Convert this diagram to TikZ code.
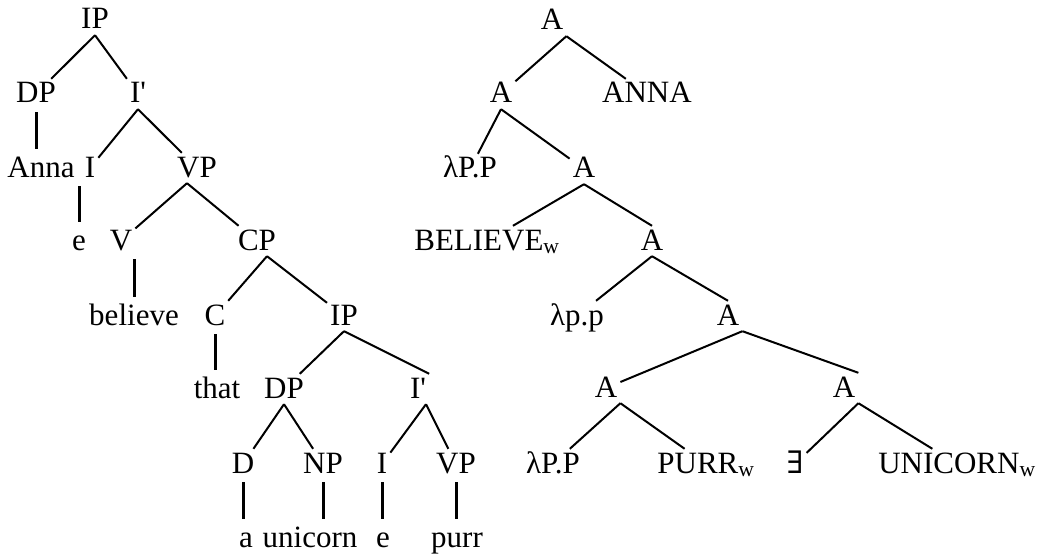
\documentclass[tikz,border=0pt]{standalone}
\usepackage{fontspec}
\setmainfont{Liberation Serif}
\newfontfamily\symfont{DejaVu Serif}

\tikzset{
  every node/.style={font=\fontsize{31}{36}\selectfont, inner sep=3pt,
    text height=21pt, text depth=3pt, anchor=base},
  branch/.style={line width=2pt},
  stem/.style={line width=3pt, shorten <=3pt, shorten >=4pt}
}

\begin{document}
\begin{tikzpicture}[x=1pt,y=-1pt]
\useasboundingbox (0,0) rectangle (1040,556);

% syntax tree
\node (ip1) at (95,29) {IP};
\node (dp1) at (36,103) {DP};
\node (ib1) at (138,103) {I\textquotesingle};
\node (anna) at (41,177) {Anna};
\node (i1) at (90,177) {I};
\node (vp1) at (197,177) {VP};
\node (e1) at (79,250) {e};
\node (v) at (121,250) {V};
\node (cp) at (257,250) {CP};
\node (believe) at (134,325) {believe};
\node (c) at (215,325) {C};
\node (ip2) at (344,325) {IP};
\node (that) at (217,398) {that};
\node (dp2) at (284,398) {DP};
\node (ib2) at (418,398) {I\textquotesingle};
\node (d) at (243,473) {D};
\node (np) at (323,473) {NP};
\node (i2) at (382,473) {I};
\node (vp2) at (456,473) {VP};
\node (a) at (246,547) {a};
\node (unicorn) at (310,547) {unicorn};
\node (e2) at (383,547) {e};
\node (purr) at (457,547) {purr};

\draw[branch] (ip1.south) -- (dp1);
\draw[branch] (ip1.south) -- (ib1);
\draw[branch] (ib1.south) -- (i1);
\draw[branch] (ib1.south) -- (vp1);
\draw[branch] ([xshift=-10pt]vp1.south) -- (v);
\draw[branch] ([xshift=-10pt]vp1.south) -- (cp);
\draw[branch] ([xshift=10pt]cp.south) -- (c);
\draw[branch] ([xshift=10pt]cp.south) -- (ip2);
\draw[branch] (ip2.south) -- (dp2);
\draw[branch] (ip2.south) -- (ib2.north east);
\draw[branch] (dp2.south) -- (d);
\draw[branch] (dp2.south) -- (np);
\draw[branch] ([xshift=8pt]ib2.south) -- (i2);
\draw[branch] ([xshift=8pt]ib2.south) -- (vp2);

\draw[stem] (dp1.south) -- (dp1.south |- anna.north);
\draw[stem] (e1.north |- i1.south) -- (e1.north);
\draw[stem] (believe.north |- v.south) -- (believe.north);
\draw[stem] (c.south) -- (c.south |- that.north);
\draw[stem] (d.south) -- (d.south |- a.north);
\draw[stem] (np.south) -- (np.south |- unicorn.north);
\draw[stem] (i2.south) -- (i2.south |- e2.north);
\draw[stem] (vp2.south) -- (vp2.south |- purr.north);

% semantic tree
\node (r0) at (552,30) {A};
\node (r1) at (501,103) {A};
\node (anna2) at (647,103) {ANNA};
\node (lam1) at (470,178) {λP.P};
\node (r2) at (584,178) {A};
\node (believe2) at (487,250) {BELIEVE\textsubscript{w}};
\node (r3) at (652,250) {A};
\node (lam2) at (577,325) {λp.p};
\node (r4) at (728,325) {A};
\node (r5) at (606,397) {A};
\node (r6) at (844,397) {A};
\node (lam3) at (553,473) {λP.P};
\node (purr2) at (706,473) {PURR\textsubscript{w}};
\node (exists) at (795,473) {\symfont ∃};
\node (unicorn2) at (957,473) {UNICORN\textsubscript{w}};

\draw[branch] (r0.south east) -- (r1);
\draw[branch] (r0.south east) -- (anna2);
\draw[branch] (r1.south) -- (lam1);
\draw[branch] (r1.south) -- (r2);
\draw[branch] (r2.south) -- (believe2);
\draw[branch] (r2.south) -- (r3.north);
\draw[branch] (r3.south) -- (lam2);
\draw[branch] (r3.south) -- (r4.north);
\draw[branch] (r4.south east) -- (r5);
\draw[branch] (r4.south east) -- (r6.north east);
\draw[branch] (r5.south east) -- (lam3);
\draw[branch] (r5.south east) -- (purr2);
\draw[branch] (r6.south east) -- (exists);
\draw[branch] (r6.south east) -- (unicorn2);
\end{tikzpicture}
\end{document}
